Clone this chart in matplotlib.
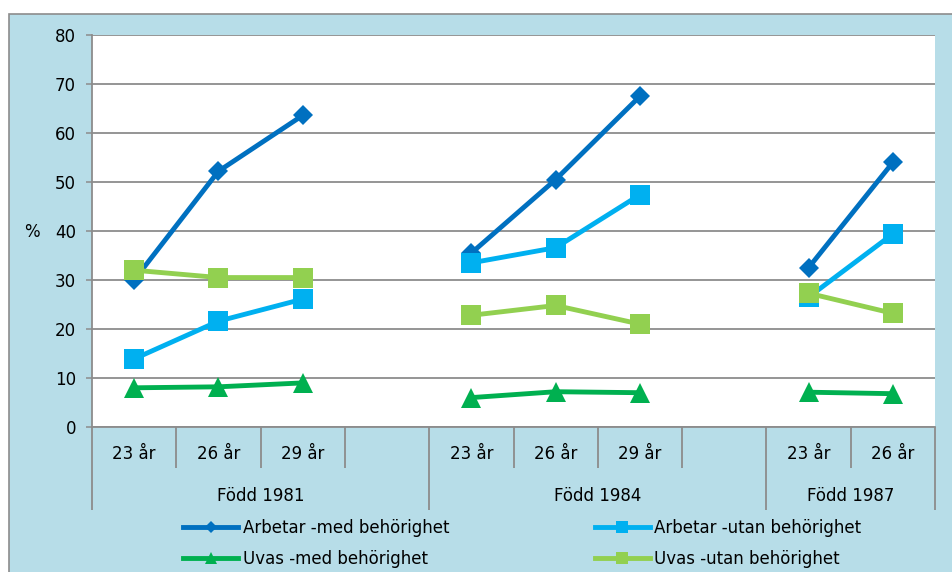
import numpy as np
import matplotlib.pyplot as plt
from matplotlib.lines import Line2D
from matplotlib.patches import Rectangle

plt.rcParams['font.family'] = ['DejaVu Sans']

# category slots (blank slot between cohorts)
ages = ["23 år", "26 år", "29 år", "", "23 år", "26 år", "29 år", "", "23 år", "26 år"]
cohorts = ["Född 1981", "Född 1984", "Född 1987"]
cohort_bounds = [-0.5, 3.5, 7.5, 9.5]

nan = np.nan
arbetar_med = [30, 52.2, 63.6, nan, 35.5, 50.5, 67.5, nan, 32.5, 54]
arbetar_utan = [13.9, 21.6, 26.1, nan, 33.5, 36.6, 47.4, nan, 26.5, 39.4]
uvas_med = [8, 8.2, 9, nan, 6, 7.2, 7, nan, 7.1, 6.8]
uvas_utan = [32, 30.5, 30.5, nan, 22.8, 24.8, 21, nan, 27.3, 23.2]

series = [
    ("Arbetar -med behörighet", arbetar_med, "#0070c0", "D", 10),
    ("Arbetar -utan behörighet", arbetar_utan, "#00b0f0", "s", 14),
    ("Uvas -med behörighet", uvas_med, "#00b050", "^", 14),
    ("Uvas -utan behörighet", uvas_utan, "#92d050", "s", 14),
]

bg = "#b7dde8"
grid_c = "#8c8c8c"

fig = plt.figure(figsize=(9.52, 5.72), dpi=100)
fig.patch.set_facecolor("white")
fig.patches.append(Rectangle((9 / 952, -0.1), 1.0, 1 - 14 / 572 + 0.1,
                             transform=fig.transFigure, facecolor=bg,
                             edgecolor="#8c8c8c", lw=1.2, zorder=-10))

ax = fig.add_axes([92 / 952, 1 - 427 / 572, (935 - 92) / 952, (427 - 35) / 572])
ax.set_facecolor("white")

x = np.arange(len(ages))
handles = []
for name, vals, color, marker, ms in series:
    ax.plot(x, vals, color=color, lw=3.5, marker=marker, ms=ms,
            markeredgewidth=0, zorder=3, clip_on=False)
    handles.append(Line2D([], [], color=color, lw=3.5, marker=marker,
                          ms=ms * 0.6, markeredgewidth=0, label=name))

ax.set_ylim(0, 80)
ax.set_xlim(-0.5, 9.5)
ax.set_yticks(np.arange(0, 81, 10))
ax.yaxis.grid(True, color=grid_c, lw=1.3)
ax.set_axisbelow(True)
ax.tick_params(axis="y", length=4.5, width=1.1, color=grid_c, labelsize=12, pad=7)

for s in ["top", "right"]:
    ax.spines[s].set_visible(False)
for s in ["left", "bottom"]:
    ax.spines[s].set_color(grid_c)
    ax.spines[s].set_linewidth(1.3)

# two-level category axis
ax.set_xticks(cohort_bounds, labels=[""] * len(cohort_bounds))
ax.set_xticks(np.arange(-0.5, 10, 1.0), minor=True)
ax.tick_params(axis="x", which="major", length=60, width=1.3, color=grid_c)
ax.tick_params(axis="x", which="minor", length=29.5, width=1.3, color=grid_c)

for i, a in enumerate(ages):
    if a:
        ax.annotate(a, xy=(i, 0), xycoords=("data", "axes fraction"),
                    xytext=(0, -19.5), textcoords="offset points",
                    ha="center", va="center", fontsize=12)
for lab, lo, hi in zip(cohorts, cohort_bounds[:-1], cohort_bounds[1:]):
    ax.annotate(lab, xy=((lo + hi) / 2, 0), xycoords=("data", "axes fraction"),
                xytext=(0, -49.5), textcoords="offset points",
                ha="center", va="center", fontsize=12)

fig.text(32 / 952, 1 - 232 / 572, "%", ha="center", va="center", fontsize=12)

order = [0, 2, 1, 3]
fig.legend([handles[i] for i in order], [handles[i].get_label() for i in order],
           ncol=2, loc="upper left", bbox_to_anchor=(183 / 952, 1 - 519 / 572),
           frameon=False, fontsize=12, handlelength=3.3, handletextpad=0.3,
           columnspacing=8.7, labelspacing=0.75, borderpad=0, borderaxespad=0)

fig.savefig("out.png", dpi=100, facecolor=fig.get_facecolor())
